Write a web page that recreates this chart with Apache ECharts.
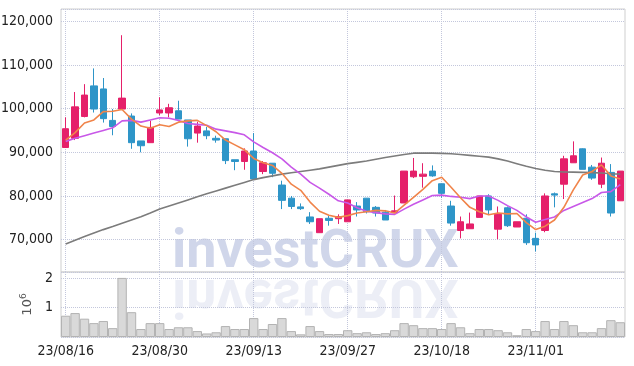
<!DOCTYPE html>
<html>
<head>
<meta charset="UTF-8">
<title>investCRUX candle chart</title>
<style>
  * { margin: 0; padding: 0; }
  html, body { width: 100%; height: 100%; background: #fff; }
  #chart { width: 634px; height: 366px; }
</style>
</head>
<body>
<div id="chart"></div>
<script src="https://cdn.jsdelivr.net/npm/echarts@6/dist/echarts.min.js"></script>
<script>
// trading days shown on the chart
const dates = [
  '23/08/16','23/08/17','23/08/18','23/08/21','23/08/22','23/08/23','23/08/24','23/08/25','23/08/28','23/08/29',
  '23/08/30','23/08/31','23/09/01','23/09/04','23/09/05','23/09/06','23/09/07','23/09/08','23/09/11','23/09/12',
  '23/09/13','23/09/14','23/09/15','23/09/18','23/09/19','23/09/20','23/09/21','23/09/22','23/09/25','23/09/26',
  '23/09/27','23/10/04','23/10/05','23/10/06','23/10/10','23/10/11','23/10/12','23/10/13','23/10/16','23/10/17',
  '23/10/18','23/10/19','23/10/20','23/10/23','23/10/24','23/10/25','23/10/26','23/10/27','23/10/30','23/10/31',
  '23/11/01','23/11/02','23/11/03','23/11/06','23/11/07','23/11/08','23/11/09','23/11/10','23/11/13','23/11/14'
];
const opens = [
  91100, 93200, 98200, 105200, 104500, 97300, 99900, 98300, 92600, 92200,
  99000, 99000, 99500, 97400, 94400, 94900, 93200, 93100, 88300, 87900,
  90300, 85600, 87500, 82500, 79500, 77500, 75200, 71600, 74900, 74800,
  74100, 77700, 79500, 77400, 76300, 76200, 78400, 84400, 84500, 85700,
  82800, 77700, 72100, 72500, 75100, 80000, 72400, 77300, 72900, 74900,
  70300, 72100, 80500, 82700, 87600, 90800, 86600, 82700, 85400, 78900
];
const closes = [
  95400, 100400, 103100, 99900, 97700, 95900, 102400, 92200, 91500, 95700,
  99700, 100200, 97600, 93100, 96000, 93800, 92800, 88100, 87900, 90300,
  83900, 87600, 85200, 79000, 77600, 77100, 74100, 74800, 74400, 75300,
  79100, 76800, 76400, 76100, 74500, 76600, 85700, 85700, 85000, 84600,
  80600, 73800, 74100, 73600, 80000, 76800, 75800, 73200, 74100, 69300,
  68800, 80000, 80200, 88500, 89200, 86100, 84100, 87500, 76100, 85700
];
const lows = [
  91000, 92800, 98000, 99100, 96800, 93900, 99900, 90800, 90000, 92200,
  98500, 98000, 97600, 91300, 92200, 93000, 92200, 87300, 85900, 86000,
  83900, 85000, 84300, 77000, 77000, 76800, 73600, 71600, 73200, 73600,
  74100, 75300, 76000, 75300, 74500, 76100, 78400, 84100, 81900, 84400,
  79600, 73200, 70300, 72500, 75100, 75800, 70100, 72900, 72900, 68800,
  67300, 71700, 77400, 79300, 87600, 86100, 83700, 81800, 75300, 78900
];
const highs = [
  98000, 103800, 105600, 109200, 107000, 99900, 116800, 98900, 92600, 97200,
  102600, 101100, 101800, 97400, 97000, 95800, 93800, 93100, 88300, 90900,
  94400, 88000, 87500, 83500, 80000, 78300, 76300, 74800, 75500, 75800,
  79100, 78600, 79500, 77700, 76800, 80100, 85700, 88700, 87500, 87000,
  82800, 78900, 75300, 76200, 80000, 80400, 77600, 77600, 74100, 75800,
  71600, 80600, 80800, 89200, 92500, 90900, 87100, 88800, 87300, 85700
];
const volumes = [
  720000, 810000, 620000, 470000, 540000, 300000, 2000000, 840000, 270000, 470000,
  470000, 270000, 330000, 330000, 200000, 120000, 160000, 370000, 270000, 270000,
  640000, 270000, 440000, 640000, 200000, 90000, 370000, 200000, 100000, 100000,
  230000, 130000, 160000, 100000, 130000, 230000, 470000, 400000, 300000, 300000,
  270000, 470000, 330000, 130000, 270000, 270000, 230000, 160000, 60000, 270000,
  200000, 540000, 270000, 540000, 400000, 160000, 160000, 300000, 570000, 500000
];
// moving average lines as drawn (short, medium, long)
const maShort = [
  92800, 94500, 96700, 97400, 99300, 99400, 99800, 97600, 96000, 95500,
  96300, 95900, 96900, 97200, 97300, 96100, 94700, 92800, 91700, 90600,
  88600, 87600, 87000, 85200, 82700, 81300, 78600, 76500, 75600, 75100,
  75500, 76100, 76400, 76700, 76600, 76100, 77900, 79700, 81500, 83500,
  84300, 82000, 79600, 77400, 76400, 75700, 76100, 75900, 76000, 73900,
  72300, 73100, 74500, 77400, 81400, 84800, 85600, 87100, 84600, 83900
];
const maMid = [
  92500, 93200, 93800, 94400, 95000, 95600, 97200, 97300, 96900, 97400,
  97900, 97800, 97300, 96600, 96400, 96200, 95300, 94900, 94500, 94000,
  92400, 91100, 89900, 88500, 86600, 85000, 83100, 81800, 80400, 78900,
  78400, 77300, 76500, 76200, 75900, 75800, 77000, 78100, 79100, 80100,
  80200, 79900, 79700, 79400, 80000, 80000, 79000, 77800, 76700, 75200,
  74000, 74600, 75200, 76700, 77600, 78500, 79400, 80800, 81000, 82600
];
const maLong = [
  69000, 69850, 70700, 71500, 72300, 73000, 73750, 74500, 75250, 76100,
  77000, 77700, 78400, 79100, 79800, 80500, 81150, 81800, 82450, 83100,
  83750, 84200, 84600, 85000, 85300, 85600, 85900, 86200, 86600, 87000,
  87400, 87700, 88000, 88400, 88800, 89150, 89500, 89800, 89850, 89800,
  89750, 89650, 89500, 89300, 89100, 88900, 88500, 88000, 87400, 86800,
  86300, 85900, 85600, 85500, 85450, 85400, 85350, 85250, 85100, 85000
];

const candles = dates.map((d, i) => [opens[i], closes[i], lows[i], highs[i]]);

const labelFont = "'Liberation Sans Narrow', 'DejaVu Sans Condensed', sans-serif";
const gridLine = { show: true, lineStyle: { type: 'dotted', color: '#c3c7dc', width: 1 } };

const chart = echarts.init(document.getElementById('chart'));
chart.setOption({
  animation: false,
  backgroundColor: '#fff',
  grid: [
    { left: 61, right: 9, top: 9, height: 263, show: true, borderColor: '#cfcfcf', borderWidth: 1, outerBoundsMode: 'none' },
    { left: 61, right: 9, top: 272, height: 65, show: true, borderColor: '#cfcfcf', borderWidth: 1, outerBoundsMode: 'none' }
  ],
  graphic: [
    {
      type: 'text', x: 172, y: 280, z: 0, silent: true,
      style: { text: 'investCRUX', font: 'bold 54px Roboto', fill: 'rgba(176,186,220,0.6)', verticalAlign: 'bottom' }
    },
    {
      type: 'text', x: 172, y: 266, scaleY: -1, z: 0, silent: true,
      style: { text: 'investCRUX', font: 'bold 54px Roboto', fill: 'rgba(200,206,228,0.35)', verticalAlign: 'bottom' }
    }
  ],
  xAxis: [
    {
      type: 'category', gridIndex: 0, data: dates, boundaryGap: true,
      axisLine: { show: false }, axisTick: { show: false }, axisLabel: { show: false },
      splitLine: Object.assign({ interval: 9, alignWithLabel: true }, gridLine)
    },
    {
      type: 'category', gridIndex: 1, data: dates, boundaryGap: true,
      axisLine: { show: false }, axisTick: { show: false },
      axisLabel: { interval: 9, color: '#222', fontSize: 14, fontFamily: labelFont, margin: 7 },
      splitLine: Object.assign({ interval: 9, alignWithLabel: true }, gridLine)
    }
  ],
  yAxis: [
    {
      type: 'value', gridIndex: 0, min: 62600, max: 122800, splitNumber: 6,
      axisLine: { show: false }, axisTick: { show: false },
      axisLabel: {
        showMinLabel: false, showMaxLabel: false, color: '#222', fontSize: 14,
        fontFamily: labelFont, margin: 8,
        formatter: v => v.toLocaleString('en-US')
      },
      splitLine: gridLine
    },
    {
      type: 'value', gridIndex: 1, min: 0, max: 2200000, interval: 1000000,
      axisLine: { show: false }, axisTick: { show: false },
      axisLabel: {
        color: '#222', fontSize: 14, fontFamily: labelFont, margin: 8,
        formatter: v => (v > 0 && v % 1000000 === 0) ? String(v / 1000000) : ''
      },
      splitLine: gridLine,
      name: '{b|10}{s|6}', nameLocation: 'middle', nameRotate: 90, nameGap: 20,
      nameTextStyle: {
        rich: {
          b: { fontSize: 13, color: '#555', fontFamily: 'DejaVu Sans' },
          s: { fontSize: 9, color: '#555', fontFamily: 'DejaVu Sans', padding: [0, 0, 8, 0] }
        }
      }
    }
  ],
  series: [
    {
      type: 'candlestick', xAxisIndex: 0, yAxisIndex: 0, data: candles, barWidth: 7,
      itemStyle: { color: '#e5206a', color0: '#2e95c8', borderColor: '#e5206a', borderColor0: '#2e95c8', borderWidth: 1 }
    },
    {
      type: 'line', xAxisIndex: 0, yAxisIndex: 0, data: maLong, symbol: 'none',
      lineStyle: { color: '#7c7c7c', width: 1.6 }
    },
    {
      type: 'line', xAxisIndex: 0, yAxisIndex: 0, data: maMid, symbol: 'none',
      lineStyle: { color: '#c858e8', width: 1.6 }
    },
    {
      type: 'line', xAxisIndex: 0, yAxisIndex: 0, data: maShort, symbol: 'none',
      lineStyle: { color: '#f0844a', width: 1.6 }
    },
    {
      type: 'bar', xAxisIndex: 1, yAxisIndex: 1, data: volumes, barCategoryGap: '0%',
      itemStyle: { color: '#d9d9d9', borderColor: '#b3b3b3', borderWidth: 1 }
    }
  ]
});
</script>
</body>
</html>
